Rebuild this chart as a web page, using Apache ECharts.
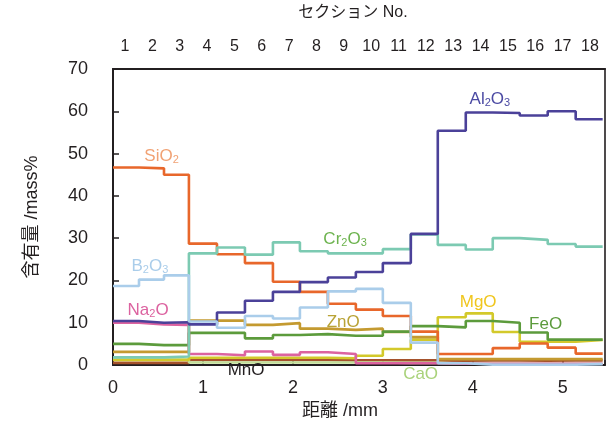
<!DOCTYPE html>
<html>
<head>
<meta charset="utf-8">
<script src="https://cdn.jsdelivr.net/npm/echarts@6/dist/echarts.min.js"></script>
<style>
  html, body { margin: 0; padding: 0; background: #fff; }
  #chart { width: 613px; height: 430px; }
</style>
</head>
<body>
<div id="chart"></div>
<script>
// 各セクションの境界 (mm)
var edges = [0, 0.289, 0.567, 0.844, 1.156, 1.467, 1.778, 2.078, 2.389, 2.700,
  3.0, 3.311, 3.611, 3.922, 4.222, 4.522, 4.833, 5.144, 5.444];
var sectionNos = [1, 2, 3, 4, 5, 6, 7, 8, 9, 10, 11, 12, 13, 14, 15, 16, 17, 18];
var yTicks = [0, 10, 20, 30, 40, 50, 60, 70];

// 含有量 mass% (セクション 1..18)
var sio2  = [46.7, 46.5, 45.0, 28.7, 26.2, 24.1, 19.7, 17.3, 14.5, 13.1, 11.6, 7.9, 2.6, 2.6, 4.0, 5.1, 4.1, 2.7];
var al2o3 = [10.4, 10.0, 10.1, 9.6, 12.4, 15.2, 17.3, 19.6, 20.7, 22.0, 24.1, 31.0, 55.4, 59.7, 59.6, 59.0, 60.0, 58.1];
var cr2o3 = [1.8, 1.8, 2.0, 26.4, 27.8, 26.1, 29.0, 26.9, 26.4, 26.4, 27.4, 30.9, 28.4, 27.3, 30.0, 29.6, 28.6, 28.0];
var b2o3  = [18.7, 20.2, 21.2, 10.3, 8.8, 11.6, 11.0, 13.6, 17.4, 18.0, 14.7, 5.3, 0.4, 0.1, 0.1, 0.1, 0.1, 0.2];
var na2o  = [10.0, 9.6, 9.5, 2.6, 2.3, 3.2, 2.4, 3.0, 2.6, 0.4, 0.4, 0.4, 0.3, 0.3, 0.3, 0.3, 0.3, 0.3];
var zno   = [3.1, 3.1, 3.1, 10.5, 10.5, 9.5, 9.9, 8.6, 8.3, 8.6, 7.8, 6.6, 1.4, 1.4, 1.4, 1.4, 1.4, 1.4];
var feo   = [5.0, 4.7, 4.7, 7.6, 7.6, 6.3, 7.1, 7.3, 6.9, 6.9, 7.9, 9.2, 8.9, 10.4, 10.0, 7.7, 6.0, 6.0];
var mgo   = [1.2, 1.2, 1.2, 1.7, 1.7, 1.7, 1.7, 1.7, 1.6, 2.2, 3.8, 6.0, 11.3, 12.2, 7.8, 5.5, 5.5, 5.9];
var mno   = [0.5, 0.5, 0.5, 1.2, 1.2, 1.2, 1.2, 1.2, 1.1, 1.1, 1.1, 1.1, 1.0, 1.1, 1.1, 1.0, 1.1, 1.1];
var cao   = [1.4, 1.4, 1.4, 0.6, 0.6, 0.6, 0.6, 0.6, 0.6, 0.6, 0.5, 0.5, 0.3, 0.3, 0.3, 0.3, 0.3, 0.3];

// 描画設定 (下に描くものから)
var lines = [
  { name: 'MnO',   data: mno,   color: '#a5522c', label: [['MnO']],                       at: [1.48, -1.2], labelColor: '#231f20' },
  { name: 'CaO',   data: cao,   color: '#c2de98', label: [['CaO']],                       at: [3.42, -2.3], labelColor: '#a9d27a' },
  { name: 'MgO',   data: mgo,   color: '#d3c92b', label: [['MgO']],                       at: [4.06, 14.9], labelColor: '#f0c61e' },
  { name: 'ZnO',   data: zno,   color: '#c49a30', label: [['ZnO']],                       at: [2.56, 10.1], labelColor: '#b9a336' },
  { name: 'FeO',   data: feo,   color: '#5c9b3c', label: [['FeO']],                       at: [4.81, 9.6],  labelColor: '#5c9b3c' },
  { name: 'Na2O',  data: na2o,  color: '#dc63a0', label: [['Na'], ['2', 's'], ['O']],     at: [0.39, 12.9], labelColor: '#dc63a0' },
  { name: 'SiO2',  data: sio2,  color: '#e8672b', label: [['SiO'], ['2', 's']],           at: [0.54, 49.4], labelColor: '#f1a274' },
  { name: 'Cr2O3', data: cr2o3, color: '#7ccab2', label: [['Cr'], ['2', 's'], ['O'], ['3', 's']], at: [2.58, 29.7], labelColor: '#6db34f' },
  { name: 'Al2O3', data: al2o3, color: '#4b4199', label: [['Al'], ['2', 's'], ['O'], ['3', 's']], at: [4.19, 62.8], labelColor: '#4b4aa3' },
  { name: 'B2O3',  data: b2o3,  color: '#aacdea', label: [['B'], ['2', 's'], ['O'], ['3', 's']],  at: [0.41, 23.4], labelColor: '#aacdea' }
];

var FONT = '"Liberation Sans", Arial, sans-serif';
var JFONT = '"Liberation Sans", "Noto Sans CJK JP", sans-serif';

function toSteps(values) {
  var pts = [];
  values.forEach(function(v, i) {
    pts.push([edges[i], v]);
  });
  pts.push([edges[edges.length - 1], values[values.length - 1]]);
  return pts;
}

function labelText(parts) {
  return parts.map(function(p) {
    return p[1] ? '{s|' + p[0] + '}' : '{n|' + p[0] + '}';
  }).join('');
}

function richFor(color) {
  return {
    n: { fontFamily: FONT, fontSize: 17, fill: color, lineHeight: 20 },
    s: { fontFamily: FONT, fontSize: 11, fill: color, lineHeight: 20, padding: [7, 0, 0, 0] }
  };
}

var chart = echarts.init(document.getElementById('chart'), null, { renderer: 'canvas' });

var series = lines.map(function(ln) {
  return {
    name: ln.name,
    type: 'line',
    step: 'end',
    symbol: 'none',
    clip: false,
    silent: true,
    lineStyle: { color: ln.color, width: 2.6 },
    data: toSteps(ln.data)
  };
});

var option = {
  animation: false,
  backgroundColor: '#fff',
  grid: {
    left: 113,
    right: 8,
    top: 66,
    bottom: 65,
    show: true,
    borderColor: '#231f20',
    borderWidth: 1.6
  },
  xAxis: [
    {
      type: 'value',
      position: 'bottom',
      min: 0,
      max: 5.47,
      interval: 1,
      name: '距離 /mm',
      nameLocation: 'middle',
      nameGap: 37,
      nameTextStyle: { fontFamily: JFONT, fontSize: 18, color: '#231f20', padding: [0, 38, 0, 0] },
      axisLine: { show: true, lineStyle: { color: '#231f20', width: 2 } },
      axisTick: { show: true, inside: true, length: 5, lineStyle: { color: '#231f20', width: 1.5 } },
      axisLabel: {
        fontFamily: FONT, fontSize: 18, color: '#231f20', margin: 14,
        formatter: function(v) { return v > 5.2 ? '' : String(v); }
      },
      splitLine: { show: false }
    },
    {
      type: 'value',
      position: 'top',
      min: 0.561,
      max: 18.55,
      name: 'セクション No.',
      nameLocation: 'middle',
      nameGap: 48,
      nameTextStyle: { fontFamily: JFONT, fontSize: 16, color: '#231f20', padding: [0, 12, 0, 0] },
      axisLine: { show: true, lineStyle: { color: '#231f20', width: 2 } },
      axisTick: { show: false },
      axisLabel: {
        fontFamily: FONT, fontSize: 16, color: '#231f20', margin: 14,
        customValues: sectionNos
      },
      splitLine: { show: false }
    }
  ],
  yAxis: [
    {
      type: 'value',
      min: yTicks[0],
      max: yTicks[yTicks.length - 1],
      interval: 10,
      name: '含有量 /mass%',
      nameLocation: 'middle',
      nameGap: 72,
      nameRotate: 90,
      nameTextStyle: { fontFamily: JFONT, fontSize: 18, color: '#231f20' },
      axisLine: { show: true, lineStyle: { color: '#231f20', width: 2 } },
      axisTick: { show: true, inside: true, length: 6, lineStyle: { color: '#231f20', width: 1.5 } },
      axisLabel: { fontFamily: FONT, fontSize: 18, color: '#231f20', margin: 25 },
      splitLine: { show: false }
    }
  ],
  series: series
};

chart.setOption(option);

// 成分名ラベル (データ座標 → ピクセル)
var texts = lines.map(function(ln) {
  var p = chart.convertToPixel({ xAxisIndex: 0, yAxisIndex: 0 }, ln.at);
  return {
    type: 'text',
    x: p[0],
    y: p[1],
    z: 100,
    silent: true,
    style: {
      text: labelText(ln.label),
      rich: richFor(ln.labelColor),
      fill: ln.labelColor,
      align: 'center',
      verticalAlign: 'middle'
    }
  };
});
chart.setOption({ graphic: texts });
</script>
</body>
</html>
